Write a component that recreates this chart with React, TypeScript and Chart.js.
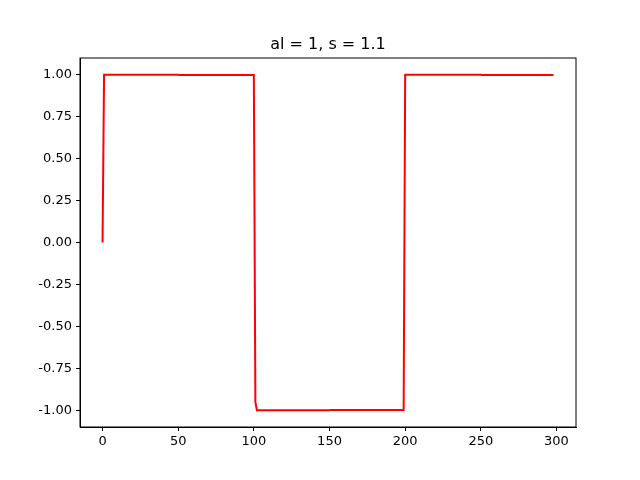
import { useEffect, useRef } from "react";
import { Chart, registerables } from "chart.js";

Chart.register(...registerables);

// breakpoints of the red curve
const xs = [0, 1, 50, 51, 100, 101, 102, 150, 151, 199, 200, 250, 251, 298];
const ys = [0, 1.0, 1.0, 0.998, 0.998, -0.95, -1.0, -1.0, -0.998, -0.998, 1.0, 1.0, 0.998, 0.998];
const xTicks = [0, 50, 100, 150, 200, 250, 300];
const yTicks = [-1.0, -0.75, -0.5, -0.25, 0.0, 0.25, 0.5, 0.75, 1.0];
const title = "al = 1, s = 1.1";

const font = { family: "DejaVu Sans", size: 13 };

export default function App() {
    const chartRef = useRef<HTMLCanvasElement | null>(null);

    useEffect(() => {
        document.body.style.margin = "0";
        if (!chartRef.current) return;
        const ctx = chartRef.current.getContext("2d");
        if (!ctx) return;

        // frame + title like matplotlib
        const framePlugin = {
            id: "frame",
            afterDraw(chart: any) {
                const { ctx, chartArea: a } = chart;
                ctx.save();
                ctx.strokeStyle = "#000";
                ctx.lineWidth = 1;
                ctx.strokeRect(a.left, a.top, a.right - a.left, a.bottom - a.top);
                ctx.fillStyle = "#000";
                ctx.font = "16px 'DejaVu Sans'";
                ctx.textAlign = "center";
                ctx.textBaseline = "alphabetic";
                ctx.fillText(title, (a.left + a.right) / 2, a.top - 9);
                ctx.restore();
            },
        };

        const myChart = new Chart(ctx, {
            type: "scatter",
            data: {
                datasets: [
                    {
                        data: xs.map((x, i) => ({ x, y: ys[i] })),
                        showLine: true,
                        borderColor: "#ff0000",
                        borderWidth: 2,
                        pointRadius: 0,
                        fill: false,
                    },
                ],
            },
            options: {
                animation: false,
                responsive: false,
                layout: { padding: { top: 58, right: 64, left: 0, bottom: 0 } },
                plugins: { legend: { display: false }, tooltip: { enabled: false } },
                scales: {
                    x: {
                        type: "linear",
                        min: -14.9,
                        max: 312.9,
                        afterBuildTicks: (s: any) => {
                            s.ticks = xTicks.map((v) => ({ value: v }));
                        },
                        afterFit: (s: any) => {
                            s.height = 53;
                        },
                        grid: { drawOnChartArea: false, tickLength: 4, color: "#000" },
                        border: { color: "#000" },
                        ticks: { color: "#000", font, padding: 3, maxRotation: 0, callback: (v: any) => String(v) },
                    },
                    y: {
                        type: "linear",
                        min: -1.1,
                        max: 1.1,
                        afterBuildTicks: (s: any) => {
                            s.ticks = yTicks.map((v) => ({ value: v }));
                        },
                        afterFit: (s: any) => {
                            s.width = 80;
                        },
                        grid: { drawOnChartArea: false, tickLength: 4, color: "#000" },
                        border: { color: "#000" },
                        ticks: { color: "#000", font, padding: 4, callback: (v: any) => Number(v).toFixed(2) },
                    },
                },
            },
            plugins: [framePlugin],
        });

        return () => {
            myChart.destroy();
        };
    }, []);

    return (
        <div style={{ width: 640, height: 480, background: "#fff" }}>
            <canvas ref={chartRef} width="640" height="480"></canvas>
        </div>
    );
}
